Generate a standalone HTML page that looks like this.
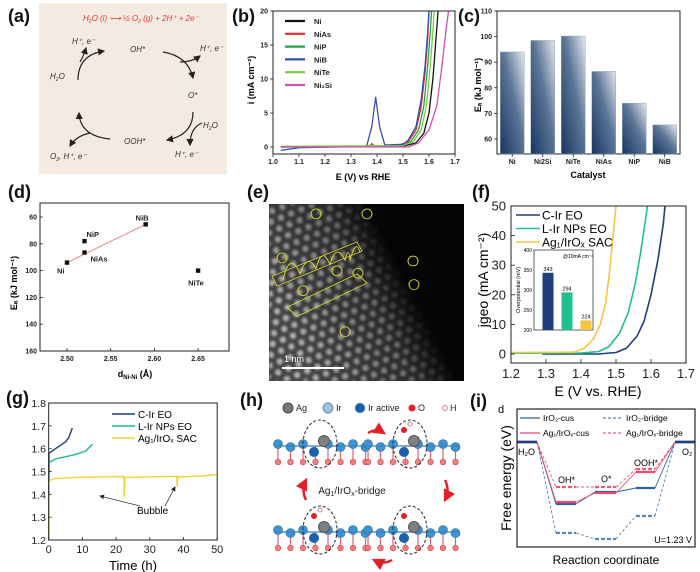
<!DOCTYPE html>
<html><head><meta charset="utf-8">
<style>
html,body{margin:0;padding:0;background:#fff;}
svg{display:block;font-family:"Liberation Sans",Arial,sans-serif;}
.pl{font-size:18px;font-weight:bold;fill:#111;}
.tk{font-weight:bold;fill:#222;}
.tk2{fill:#222;}
</style></head>
<body>
<svg id="fig" width="700" height="572" viewBox="0 0 700 572">
<defs>
<linearGradient id="barg" x1="0" y1="1" x2="1" y2="0">
<stop offset="0" stop-color="#163660"/><stop offset="0.55" stop-color="#5b7596"/><stop offset="1" stop-color="#e4e8ee"/>
</linearGradient>
<marker id="arr" markerWidth="6" markerHeight="6" refX="5" refY="3" orient="auto"><path d="M0,0 L6,3 L0,6 z" fill="#222"/></marker>
<marker id="arrR" markerWidth="5" markerHeight="5" refX="4" refY="2.5" orient="auto"><path d="M0,0 L5,2.5 L0,5 z" fill="#e0202a"/></marker>
<pattern id="lat" width="11" height="19" patternUnits="userSpaceOnUse" patternTransform="rotate(-22)">
<circle cx="3" cy="3" r="3.2" fill="#ddd"/><circle cx="8.5" cy="12.5" r="3.2" fill="#ddd"/>
</pattern>
<filter id="bl"><feGaussianBlur stdDeviation="1.3"/></filter>
<linearGradient id="emg" x1="0.1" y1="0.7" x2="0.85" y2="0.35">
<stop offset="0" stop-color="#fff"/><stop offset="0.55" stop-color="#999"/><stop offset="0.8" stop-color="#000"/>
</linearGradient>
<mask id="em"><rect x="269" y="204" width="195" height="177" fill="url(#emg)"/></mask>
</defs>

<text class="pl" x="8" y="22">(a)</text>
<text class="pl" x="232" y="22">(b)</text>
<text class="pl" x="458" y="22">(c)</text>
<text class="pl" x="8" y="198">(d)</text>
<text class="pl" x="247" y="198">(e)</text>
<text class="pl" x="472" y="198">(f)</text>
<text class="pl" x="6" y="404">(g)</text>
<text class="pl" x="240" y="406">(h)</text>
<text class="pl" x="470" y="407">(i)</text>

<g font-style="italic" font-size="8" fill="#333">
<rect x="39" y="3" width="188" height="171" fill="#f3ebe1"/>
<text x="83" y="21" fill="#e53935" font-size="8">H<tspan font-size="5" dy="2">2</tspan><tspan dy="-2">O (l) </tspan><tspan>⟶ ½ O</tspan><tspan font-size="5" dy="2">2</tspan><tspan dy="-2"> (g) + 2H⁺ + 2e⁻</tspan></text>
<text x="130" y="52">OH*</text>
<text x="188" y="98">O*</text>
<text x="124" y="144">OOH*</text>
<text x="50" y="79">H<tspan font-size="5" dy="2">2</tspan><tspan dy="-2">O</tspan></text>
<text x="72" y="44">H⁺, e⁻</text>
<text x="200" y="51">H⁺, e⁻</text>
<text x="203" y="128">H<tspan font-size="5" dy="2">2</tspan><tspan dy="-2">O</tspan></text>
<text x="175" y="157">H⁺, e⁻</text>
<text x="50" y="159">O<tspan font-size="5" dy="2">2</tspan><tspan dy="-2">, H⁺, e⁻</tspan></text>
<g fill="none" stroke="#222" stroke-width="1.2">
<path d="M78,80 Q78,55 104,51" marker-end="url(#arr)"/>
<path d="M80,62 Q84,55 86,48" marker-end="url(#arr)"/>
<path d="M163,52 Q188,56 193,78" marker-end="url(#arr)"/>
<path d="M180,62 Q192,62 200,56" marker-end="url(#arr)"/>
<path d="M193,112 Q193,135 167,140" marker-end="url(#arr)"/>
<path d="M202,123 Q190,128 190,145" marker-end="url(#arr)"/>
<path d="M110,139 Q80,136 79,113" marker-end="url(#arr)"/>
<path d="M90,133 Q76,136 70,146" marker-end="url(#arr)"/>
</g>
</g>

<g id="pb"></g>
<g id="pc"></g>
<g id="pd"></g>

<g>
<rect x="269" y="204" width="195" height="177" fill="#050505"/>
<g mask="url(#em)"><rect x="269" y="204" width="195" height="177" fill="#444"/><rect x="269" y="204" width="195" height="177" fill="url(#lat)" filter="url(#bl)" opacity="0.75"/></g>
<g transform="translate(0,204) scale(1,0.76) translate(0,-208)" fill="none" stroke="#d8d83a" stroke-width="1">
<ellipse cx="316" cy="221" rx="5" ry="6.5"/><ellipse cx="367" cy="221" rx="5" ry="6.5"/><ellipse cx="282" cy="279" rx="5" ry="6.5"/><ellipse cx="337" cy="296" rx="5" ry="6.5"/><ellipse cx="358" cy="299" rx="5" ry="6.5"/><ellipse cx="303" cy="322" rx="5" ry="6.5"/><ellipse cx="413" cy="283" rx="5" ry="6.5"/><ellipse cx="414" cy="314" rx="5" ry="6.5"/><ellipse cx="345" cy="376" rx="5" ry="6.5"/>
<path d="M287,344 L357,300 L367,312 L297,356 Z"/><path d="M272,303 L357,258 L362,270 L277,316Z"/>
<path d="M283,308 Q290,268 300,300 Q307,272 316,293 Q322,262 330,288 Q336,258 345,282 Q349,262 350,282 Q356,252 360,272"/>
</g>
<rect x="282" y="367" width="62" height="2" fill="#fff"/>
<text x="284" y="362" font-size="9" fill="#fff">1 nm</text>
</g>

<g id="pf"></g>
<g id="pg"></g>

<g id="ph">
<g font-size="9" fill="#222">
<circle cx="288" cy="408" r="5" fill="#777" stroke="#444"/><text x="296" y="411">Ag</text>
<circle cx="328" cy="408" r="5" fill="#9cc6e8" stroke="#6a8fb0"/><text x="336" y="411">Ir</text>
<circle cx="360" cy="408" r="5" fill="#1d5fa8"/><text x="368" y="411">Ir active</text>
<circle cx="412" cy="408" r="3.5" fill="#e0202a"/><text x="418" y="411">O</text>
<circle cx="445" cy="408" r="2.5" fill="#fff" stroke="#c88"/><text x="450" y="411">H</text>
</g>
<text x="352" y="494" font-size="10" text-anchor="middle" fill="#222">Ag<tspan font-size="7" dy="2">1</tspan><tspan dy="-2">/IrO</tspan><tspan font-size="7" dy="2">x</tspan><tspan dy="-2">-bridge</tspan></text>
<g fill="none" stroke="#e0202a" stroke-width="2.5">
<path d="M368,433 Q376,428 384,433" marker-end="url(#arrR)"/>
<path d="M445,480 Q450,490 445,500" marker-end="url(#arrR)"/>
<path d="M392,560 Q384,565 374,560" marker-end="url(#arrR)"/>
<path d="M306,500 Q301,490 306,480" marker-end="url(#arrR)"/>
</g>
</g>

<g id="pi"></g>
</svg>

<script>
var NS='http://www.w3.org/2000/svg';
function mk(parent,tag,attrs,name,txt){
  var el=document.createElementNS(NS,tag);
  for(var k in attrs) el.setAttribute(k,attrs[k]);
  
  
  if(txt!==undefined) el.textContent=txt;
  parent.appendChild(el);
  return el;
}
function line(p,x1,y1,x2,y2,st,w,name,dash){var a={x1:x1,y1:y1,x2:x2,y2:y2,stroke:st,'stroke-width':w};if(dash)a['stroke-dasharray']=dash;return mk(p,'line',a,name);}
function poly(p,pts,fx,fy,st,w,name,dash){var d=pts.map(function(q,i){return (i?'L':'M')+fx(q[0]).toFixed(1)+','+fy(q[1]).toFixed(1);}).join(' ');var a={d:d,fill:'none',stroke:st,'stroke-width':w,'stroke-linejoin':'round'};if(dash)a['stroke-dasharray']=dash;return mk(p,'path',a,name);}

/* ---------- (b) LSV ---------- */
var bSeriesNames=['Ni','NiAs','NiP','NiB','NiTe','Ni₂Si'];
var bColors=['#111','#e8252b','#23a04a','#3550a8','#7acc3e','#d24fb4'];
var bNi=[[1.03,0],[1.5,0.1],[1.55,0.6],[1.58,2],[1.6,5],[1.615,10],[1.625,15],[1.635,20]];
var bNiAs=[[1.03,0],[1.37,0.1],[1.38,0.5],[1.39,0.1],[1.48,0.2],[1.52,0.8],[1.55,2.5],[1.57,6],[1.585,11],[1.595,16],[1.6,20]];
var bNiP=[[1.03,0],[1.5,0.2],[1.53,0.8],[1.56,2.5],[1.58,6],[1.595,12],[1.605,17],[1.61,20]];
var bNiB=[[1.03,-0.5],[1.1,-0.1],[1.36,0.1],[1.38,3],[1.395,7.3],[1.41,3],[1.43,0.3],[1.5,0.4],[1.52,1],[1.55,3],[1.57,7],[1.585,12],[1.595,17],[1.6,20]];
var bNiTe=[[1.03,0.1],[1.5,0.2],[1.54,0.8],[1.57,2.5],[1.59,6],[1.605,12],[1.615,17],[1.62,20]];
var bNi2Si=[[1.03,0],[1.52,0],[1.56,0.6],[1.6,2.5],[1.63,6],[1.65,12],[1.665,17],[1.675,20]];
var bXTicks=[1.0,1.1,1.2,1.3,1.4,1.5,1.6,1.7];
var bYTicks=[0,5,10,15,20];
(function(){
  var g=document.getElementById('pb');
  var X=function(e){return 273+(e-1.0)/0.7*182;}, Y=function(i){return 147-i*6.8;};
  var data=[bNi,bNiAs,bNiP,bNiB,bNiTe,bNi2Si];
  var clip=mk(g,'clipPath',{id:'cb'},'clip-b');mk(clip,'rect',{x:273,y:11,width:182,height:143},'clip-rect');
  var sg=mk(g,'g',{'clip-path':'url(#cb)'},'series-group');
  data.forEach(function(s,k){poly(sg,s,X,Y,bColors[k],1.3,'series-'+bSeriesNames[k].toLowerCase());});
  mk(g,'rect',{x:273,y:11,width:182,height:143,fill:'none',stroke:'#222','stroke-width':1},'plot-frame');
  bXTicks.forEach(function(t){line(g,X(t),154,X(t),157,'#222',0.8,'x-tick');mk(g,'text',{x:X(t),y:164,'text-anchor':'middle','class':'tk','font-size':'7'},'x-tick-label',t.toFixed(1));});
  bYTicks.forEach(function(t){line(g,270,Y(t),273,Y(t),'#222',0.8,'y-tick');mk(g,'text',{x:268,y:Y(t)+2.5,'text-anchor':'end','class':'tk','font-size':'7'},'y-tick-label',String(t));});
  mk(g,'text',{x:363,y:180,'text-anchor':'middle','font-size':'9','font-weight':'bold'},'x-axis-title','E (V) vs RHE');
  mk(g,'text',{transform:'translate(254,80) rotate(-90)','text-anchor':'middle','font-size':'9','font-weight':'bold'},'y-axis-title','i (mA cm⁻²)');
  bSeriesNames.forEach(function(n,k){var y=21+k*12.8;line(g,285,y,305,y,bColors[k],2.2,'legend-swatch');mk(g,'text',{x:314,y:y+3,'class':'tk','font-size':'7.5'},'legend-entry',n);});
})();

/* ---------- (c) bars ---------- */
var cCategories=['Ni','Ni2Si','NiTe','NiAs','NiP','NiB'];
var cValues=[94,98.5,100.2,86.4,74,65.5];
var cYTicks=[60,70,80,90,100,110];
(function(){
  var g=document.getElementById('pc');
  var Y=function(v){return 139-(v-60)*2.56;};
  var L=497,W=183,step=W/cCategories.length;
  mk(g,'rect',{x:L,y:11,width:W,height:143,fill:'#fff',stroke:'#222','stroke-width':1},'plot-frame');
  cCategories.forEach(function(c,k){var cx=L+step*(k+0.5);var y=Y(cValues[k]);
    mk(g,'rect',{x:cx-12,y:y,width:24,height:154-y,fill:'url(#barg)',stroke:'#9aa6b4','stroke-width':0.5},'bar-'+c.toLowerCase());
    line(g,cx,154,cx,157,'#222',0.8,'x-tick');
    mk(g,'text',{x:cx,y:164,'text-anchor':'middle','class':'tk','font-size':'7'},'x-tick-label',c);});
  cYTicks.forEach(function(t){line(g,494,Y(t),497,Y(t),'#222',0.8,'y-tick');mk(g,'text',{x:492,y:Y(t)+2.5,'text-anchor':'end','class':'tk','font-size':'7'},'y-tick-label',String(t));});
  mk(g,'text',{x:588,y:178,'text-anchor':'middle','font-size':'9','font-weight':'bold'},'x-axis-title','Catalyst');
  mk(g,'text',{transform:'translate(481,85) rotate(-90)','text-anchor':'middle','font-size':'9','font-weight':'bold'},'y-axis-title','Eₐ (kJ mol⁻¹)');
})();

/* ---------- (d) scatter ---------- */
var dNames=['Ni','NiP','NiAs','NiB','NiTe'];
var dDist=[2.50,2.52,2.52,2.59,2.65];
var dEa=[94,78,86.5,65.5,100];
var dXTicks=[2.50,2.55,2.60,2.65];
var dYTicks=[60,80,100,120,140,160];
(function(){
  var g=document.getElementById('pd');
  var X=function(d){return 67+(d-2.5)/0.05*43.7;}, Y=function(v){return 217+(v-60)*1.34;};
  mk(g,'rect',{x:40,y:203,width:189,height:148,fill:'none',stroke:'#222','stroke-width':1},'plot-frame');
  line(g,X(dDist[0]),Y(dEa[0]),X(dDist[3]),Y(dEa[3]),'#e88a8a',1,'fit-line');
  var off=[[-10,11],[2,-4],[6,9],[-10,-4],[-10,15]];
  dNames.forEach(function(n,k){mk(g,'rect',{x:X(dDist[k])-2.2,y:Y(dEa[k])-2.2,width:4.4,height:4.4,fill:'#111'},'point-'+n.toLowerCase());
    mk(g,'text',{x:X(dDist[k])+off[k][0],y:Y(dEa[k])+off[k][1],'class':'tk','font-size':'7.5'},'point-label',n);});
  dXTicks.forEach(function(t){line(g,X(t),351,X(t),348,'#222',0.8,'x-tick');mk(g,'text',{x:X(t),y:361,'text-anchor':'middle','class':'tk','font-size':'7'},'x-tick-label',t.toFixed(2));});
  dYTicks.forEach(function(t){line(g,40,Y(t),43,Y(t),'#222',0.8,'y-tick');mk(g,'text',{x:37,y:Y(t)+2.5,'text-anchor':'end','class':'tk','font-size':'7'},'y-tick-label',String(t));});
  var xt=mk(g,'text',{x:135,y:377,'text-anchor':'middle','font-size':'9','font-weight':'bold'},'x-axis-title','d');
  mk(xt,'tspan',{'font-size':'6',dy:'2'},'x-axis-title-sub','Ni-Ni');
  mk(xt,'tspan',{dy:'-2'},'x-axis-title-unit',' (Å)');
  mk(g,'text',{transform:'translate(17,283) rotate(-90)','text-anchor':'middle','font-size':'9','font-weight':'bold'},'y-axis-title','Eₐ (kJ mol⁻¹)');
})();

/* ---------- (f) polarization ---------- */
var fNames=['C-Ir EO','L-Ir NPs EO','Ag₁/IrOₓ SAC'];
var fColors=['#1f3f7a','#1fbf8f','#f5c542'];
var fCIr=[[1.29,0],[1.45,0],[1.5,0.5],[1.53,2],[1.56,6],[1.58,11],[1.6,20],[1.62,32],[1.635,44],[1.64,50]];
var fLIr=[[1.2,0.3],[1.4,0.3],[1.45,0.8],[1.48,2.5],[1.51,7],[1.535,14],[1.555,24],[1.57,34],[1.585,46],[1.59,50]];
var fAg=[[1.2,0.5],[1.38,0.6],[1.41,2],[1.435,5],[1.455,10],[1.47,17],[1.48,26],[1.49,38],[1.5,50]];
var fXTicks=[1.2,1.3,1.4,1.5,1.6,1.7];
var fYTicks=[0,10,20,30,40,50];
var fInsetValues=[343,294,224];
var fInsetTicks=[200,250,300,350,400];
(function(){
  var g=document.getElementById('pf');
  var X=function(e){return 511+(e-1.2)*350;}, Y=function(j){return 354-j*2.96;};
  [fCIr,fLIr,fAg].forEach(function(s,k){poly(g,s,X,Y,fColors[k],1.6,'series-'+k);});
  mk(g,'rect',{x:511,y:206,width:175,height:157,fill:'none',stroke:'#222','stroke-width':1},'plot-frame');
  fXTicks.forEach(function(t){line(g,X(t),363,X(t),359,'#222',0.8,'x-tick');mk(g,'text',{x:X(t),y:378,'text-anchor':'middle','class':'tk2','font-size':'13'},'x-tick-label',t.toFixed(1));});
  fYTicks.forEach(function(t){line(g,511,Y(t),515,Y(t),'#222',0.8,'y-tick');mk(g,'text',{x:506,y:Y(t)+4.5,'text-anchor':'end','class':'tk2','font-size':'13'},'y-tick-label',String(t));});
  mk(g,'text',{x:598,y:396,'text-anchor':'middle','font-size':'14'},'x-axis-title','E (V vs. RHE)');
  mk(g,'text',{transform:'translate(488,280) rotate(-90)','text-anchor':'middle','font-size':'14'},'y-axis-title','jgeo (mA cm⁻²)');
  fNames.forEach(function(n,k){var y=215+k*13.5;line(g,516,y,540,y,fColors[k],1.5,'legend-swatch');mk(g,'text',{x:542,y:y+4.5,'font-size':'12'},'legend-entry',n);});
  var iY=function(v){return 330-(v-200)*0.4;};
  mk(g,'rect',{x:534,y:250,width:59,height:80,fill:'#fff',stroke:'#222','stroke-width':0.7},'inset-frame');
  var ix=[548,567,586];
  fInsetValues.forEach(function(v,k){mk(g,'rect',{x:ix[k]-5.5,y:iY(v),width:11,height:330-iY(v),fill:fColors[k]},'inset-bar-'+k);
    mk(g,'text',{x:ix[k],y:iY(v)-2,'text-anchor':'middle','font-size':'5.5'},'inset-value-label',String(v));});
  fInsetTicks.forEach(function(t){mk(g,'text',{x:532,y:iY(t)+2,'text-anchor':'end','font-size':'5'},'inset-y-tick-label',String(t));});
  mk(g,'text',{x:578,y:258,'text-anchor':'middle','font-size':'5'},'inset-annotation','@10mA cm⁻²');
  mk(g,'text',{transform:'translate(520,290) rotate(-90)','text-anchor':'middle','font-size':'5.5'},'inset-y-title','Overpotential (mV)');
})();

/* ---------- (g) stability ---------- */
var gNames=['C-Ir EO','L-Ir NPs EO','Ag₁/IrOₓ SAC'];
var gColors=['#1f3f7a','#22b98a','#f2d23a'];
var gCIr=[[0,1.2],[0.1,1.58],[1,1.59],[3,1.61],[5,1.63],[6,1.65],[7,1.69]];
var gLIr=[[0,1.46],[0.2,1.54],[2,1.555],[5,1.565],[8,1.575],[11,1.59],[13,1.62]];
var gAg=[[0,1.2],[0.1,1.46],[2,1.47],[10,1.475],[22.3,1.478],[22.4,1.39],[22.6,1.474],[30,1.477],[38,1.479],[38.1,1.435],[38.3,1.476],[45,1.48],[50,1.487]];
var gXTicks=[0,10,20,30,40,50];
var gYTicks=[1.2,1.3,1.4,1.5,1.6,1.7,1.8];
(function(){
  var g=document.getElementById('pg');
  var X=function(t){return 48.7+t*3.37;}, Y=function(v){return 540-(v-1.2)*228.3;};
  [gCIr,gLIr,gAg].forEach(function(s,k){poly(g,s,X,Y,gColors[k],1.4,'series-'+k);});
  mk(g,'rect',{x:48.7,y:403,width:168.5,height:137,fill:'none',stroke:'#222','stroke-width':1},'plot-frame');
  gXTicks.forEach(function(t){line(g,X(t),540,X(t),537,'#222',0.8,'x-tick');mk(g,'text',{x:X(t),y:553,'text-anchor':'middle','class':'tk2','font-size':'11'},'x-tick-label',String(t));});
  gYTicks.forEach(function(t){line(g,48.7,Y(t),51.7,Y(t),'#222',0.8,'y-tick');mk(g,'text',{x:46,y:Y(t)+4,'text-anchor':'end','class':'tk2','font-size':'10.5'},'y-tick-label',t.toFixed(1));});
  mk(g,'text',{x:133,y:570,'text-anchor':'middle','font-size':'13'},'x-axis-title','Time (h)');
  gNames.forEach(function(n,k){var y=414+k*12;line(g,112,y,135,y,gColors[k],1.6,'legend-swatch');mk(g,'text',{x:138,y:y+4,'font-size':'10'},'legend-entry',n);});
  mk(g,'text',{x:137,y:514,'font-size':'10'},'bubble-annotation','Bubble');
  mk(g,'path',{d:'M140,506 L100,496',stroke:'#333','stroke-width':0.8,fill:'none','marker-end':'url(#arr)'},'bubble-arrow-1');
  mk(g,'path',{d:'M165,506 L175,487',stroke:'#333','stroke-width':0.8,fill:'none','marker-end':'url(#arr)'},'bubble-arrow-2');
})();

/* ---------- (h) structures ---------- */
(function(){
  var g=document.getElementById('ph');
  var cen=[[322,446],[412,446],[322,532],[412,532]];
  cen.forEach(function(c,k){
    var sg=mk(g,'g',{},'structure-'+k);
    for(var i=0;i<8;i++){var x=c[0]-44+i*12.5;
      line(sg,x,c[1],x,c[1]+14,'#e06070',1.2,'bond');
      mk(sg,'circle',{cx:x,cy:c[1]+16,r:2.8,fill:'#f08080',stroke:'#d04050','stroke-width':0.6},'oxygen-atom');
      if(i!==3) mk(sg,'circle',{cx:x,cy:c[1]-2+(i%2)*3,r:4.5,fill:'#3d94d0',stroke:'#1f6aa0','stroke-width':0.6},'ir-atom');
    }
    line(sg,c[0]-48,c[1],c[0]+48,c[1],'#3d7fc0',1.2,'bond');
    mk(sg,'circle',{cx:c[0]-8,cy:c[1]+6,r:5,fill:'#1d5fa8'},'ir-active-atom');
    mk(sg,'circle',{cx:c[0]+2,cy:c[1]-5,r:5.5,fill:'#808080',stroke:'#555'},'ag-atom');
    mk(sg,'ellipse',{cx:c[0]-2,cy:c[1]-2,rx:17,ry:24,fill:'none',stroke:'#222','stroke-width':1,'stroke-dasharray':'3,2'},'dashed-ellipse');
    if(k>0){mk(sg,'circle',{cx:c[0]-8,cy:c[1]-16,r:3,fill:'#e0202a'},'adsorbate-o');}
    if(k===1||k===2){mk(sg,'circle',{cx:c[0]-2,cy:c[1]-22,r:2,fill:'#fff',stroke:'#c88'},'adsorbate-h');}
  });
})();

/* ---------- (i) free energy ---------- */
var iSteps=['H2O','OH*','O*','OOH*','O2'];
var iIrO2Cus=[0,-2.48,-2.0,-1.84,0];
var iAgCus=[0,-2.4,-2.04,-1.2,0];
var iIrO2Bridge=[0,-3.64,-3.88,-2.96,0];
var iAgBridge=[0,-1.8,-1.8,-1.08,0];
var iNames=['IrO₂-cus','IrO₂-bridge','Ag₁/IrOₓ-cus','Ag₁/IrOₓ-bridge'];
(function(){
  var g=document.getElementById('pi');
  var Y=function(e){return 442-e*25;};
  var xs=[[517,537],[556,576],[595,616],[636,655],[675,695]];
  function draw(vals,col,dash,name){
    for(var i=0;i<vals.length;i++){
      line(g,xs[i][0],Y(vals[i]),xs[i][1],Y(vals[i]),col,2.2,name+'-level',dash?'4,2':null);
      if(i<vals.length-1) line(g,xs[i][1],Y(vals[i]),xs[i+1][0],Y(vals[i+1]),col,0.9,name+'-connector',dash?'3,2':null);
    }
  }
  draw(iIrO2Bridge,'#5b84b8',true,'iro2-bridge');
  draw(iAgBridge,'#ee5a7a',true,'ag-bridge');
  draw(iIrO2Cus,'#2f5fa0',false,'iro2-cus');
  draw(iAgCus,'#ee4a6e',false,'ag-cus');
  line(g,517,Y(0),537,Y(0),'#1f3f8a',2.4,'h2o-level');line(g,675,Y(0),695,Y(0),'#1f3f8a',2.4,'o2-level');
  mk(g,'rect',{x:517,y:409,width:178,height:138,fill:'none',stroke:'#222','stroke-width':1.2},'plot-frame');
  mk(g,'text',{x:498,y:413,'font-size':'11'},'y-axis-label-top','d');
  mk(g,'text',{transform:'translate(511,478) rotate(-90)','text-anchor':'middle','font-size':'14'},'y-axis-title','Free energy (eV)');
  mk(g,'text',{x:606,y:564,'text-anchor':'middle','font-size':'12'},'x-axis-title','Reaction coordinate');
  mk(g,'text',{x:692,y:543,'text-anchor':'end','font-size':'9'},'potential-label','U=1.23 V');
  mk(g,'text',{x:518,y:455,'font-size':'9'},'step-label','H₂O');
  mk(g,'text',{x:682,y:455,'font-size':'9'},'step-label','O₂');
  mk(g,'text',{x:558,y:483,'font-size':'9'},'step-label','OH*');
  mk(g,'text',{x:601,y:482,'font-size':'9'},'step-label','O*');
  mk(g,'text',{x:634,y:466,'font-size':'9'},'step-label','OOH*');
  var lp=[[520,418,'#2f5fa0',0],[603,418,'#5b84b8',1],[520,433,'#ee4a6e',0],[603,433,'#ee5a7a',1]];
  lp.forEach(function(p,k){line(g,p[0],p[1],p[0]+20,p[1],p[2],1.2,'legend-swatch',p[3]?'3,2':null);mk(g,'text',{x:p[0]+23,y:p[1]+3,'font-size':'8.5'},'legend-entry',iNames[k]);});
})();
</script>
</body></html>
